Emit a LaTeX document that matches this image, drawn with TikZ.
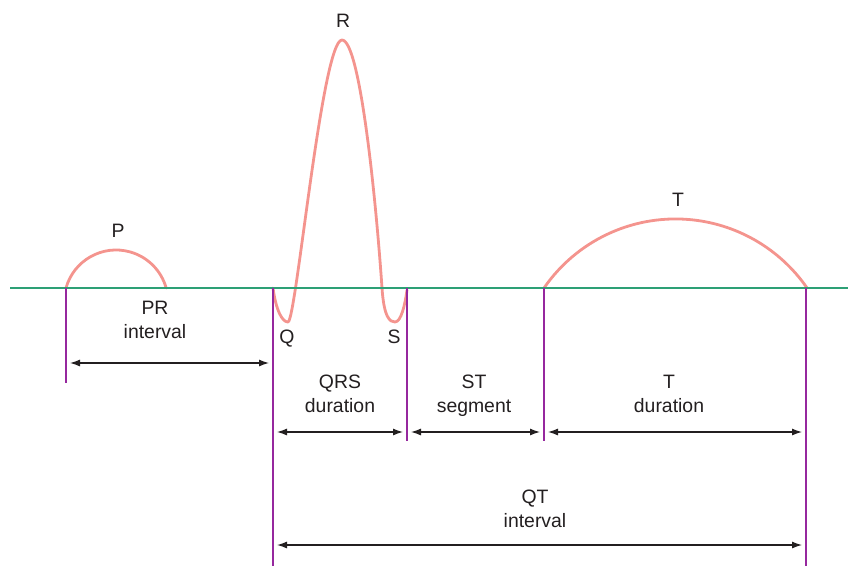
\documentclass[tikz,border=0pt]{standalone}
\usepackage{fontspec}
\setmainfont{Liberation Sans}
\usetikzlibrary{arrows.meta}
\definecolor{wave}{RGB}{244,148,142}
\definecolor{base}{RGB}{45,160,118}
\definecolor{mark}{RGB}{150,40,158}
\definecolor{ink}{RGB}{35,31,32}
\tikzset{
  lbl/.style={inner sep=0pt, text=ink, font=\fontsize{19.4}{24}\selectfont, align=center},
  wavel/.style={draw=wave, line width=2.8pt, line cap=round, line join=round},
  basel/.style={draw=base, line width=1.8pt},
  markl/.style={draw=mark, line width=1.4pt},
  dimarrow/.style={draw=ink, line width=1.2pt, {Latex[length=10pt,width=7pt]}-{Latex[length=10pt,width=7pt]}, shorten <=4pt, shorten >=4pt}
}
\begin{document}
\begin{tikzpicture}[x=1pt,y=-1pt]
\useasboundingbox (0,0) rectangle (848,566);
% waves
\draw[wavel] (66,288) arc[start angle=195.6, end angle=344.4, radius=52];
\draw[wavel] (273,288) .. controls (276,310) and (282,322) .. (288,322)
  .. controls (296,322) and (322,40) .. (342,40)
  .. controls (360,40) and (376,200) .. (382,288)
  .. controls (384,318) and (390,322) .. (395,322)
  .. controls (401,322) and (405,305) .. (407,290);
\draw[wavel] (544,288) arc[start angle=214.6, end angle=325.4, radius=159.8];
% baseline
\coordinate (bl) at (10,288);
\coordinate (br) at (848,288);
\draw[basel] (bl) -- (br);
% vertical markers
\coordinate (v1t) at (66,288);  \coordinate (v1b) at (66,383);
\coordinate (v2t) at (273,288); \coordinate (v2b) at (273,566);
\coordinate (v3t) at (407,288); \coordinate (v3b) at (407,441);
\coordinate (v4t) at (544,288); \coordinate (v4b) at (544,441);
\coordinate (v5t) at (806,288); \coordinate (v5b) at (806,566);
\draw[markl] (v1t) -- (v1b);
\draw[markl] (v2t) -- (v2b);
\draw[markl] (v3t) -- (v3b);
\draw[markl] (v4t) -- (v4b);
\draw[markl] (v5t) -- (v5b);
% dimension arrows
\coordinate (pra) at (66,363);  \coordinate (prb) at (273,363);
\coordinate (qa) at (273,432);  \coordinate (qb) at (407,432);
\coordinate (sa) at (407,432);  \coordinate (sb) at (544,432);
\coordinate (ta) at (544,432);  \coordinate (tb) at (806,432);
\coordinate (qta) at (273,545); \coordinate (qtb) at (806,545);
\draw[dimarrow] (pra) -- (prb);
\draw[dimarrow] (qa) -- (qb);
\draw[dimarrow] (sa) -- (sb);
\draw[dimarrow] (ta) -- (tb);
\draw[dimarrow] (qta) -- (qtb);
% labels
\node[lbl, anchor=base] (P) at (118,237) {P};
\node[lbl, anchor=base] (R) at (343,27) {R};
\node[lbl, anchor=base] (T) at (678,206) {T};
\node[lbl, anchor=base] (Q) at (287,343) {Q};
\node[lbl, anchor=base] (S) at (394,343) {S};
\node[lbl] (PR) at (155,321.2) {\strut PR\\\strut interval};
\node[lbl] (QRS) at (340,395.2) {\strut QRS\\\strut duration};
\node[lbl] (ST) at (474,395.2) {\strut ST\\\strut segment};
\node[lbl] (TD) at (669,395.2) {\strut T\\\strut duration};
\node[lbl] (QT) at (535,510.2) {\strut QT\\\strut interval};
\end{tikzpicture}
\end{document}
